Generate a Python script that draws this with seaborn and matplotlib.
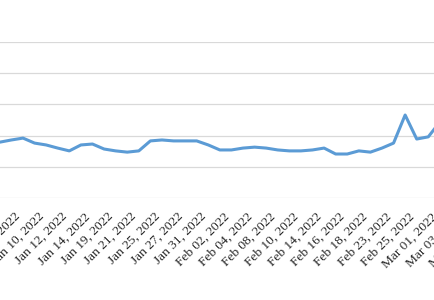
import matplotlib
matplotlib.use("Agg")
import matplotlib.pyplot as plt
import seaborn as sns
import pandas as pd
import numpy as np

# Trading days shown on the category axis (Jan 04 .. Mar 07, 2022)
trading_days = [
    "Jan 04, 2022", "Jan 05, 2022", "Jan 06, 2022", "Jan 07, 2022", "Jan 10, 2022",
    "Jan 11, 2022", "Jan 12, 2022", "Jan 13, 2022", "Jan 14, 2022", "Jan 18, 2022",
    "Jan 19, 2022", "Jan 20, 2022", "Jan 21, 2022", "Jan 24, 2022", "Jan 25, 2022",
    "Jan 26, 2022", "Jan 27, 2022", "Jan 28, 2022", "Jan 31, 2022", "Feb 01, 2022",
    "Feb 02, 2022", "Feb 03, 2022", "Feb 04, 2022", "Feb 07, 2022", "Feb 08, 2022",
    "Feb 09, 2022", "Feb 10, 2022", "Feb 11, 2022", "Feb 14, 2022", "Feb 15, 2022",
    "Feb 16, 2022", "Feb 17, 2022", "Feb 18, 2022", "Feb 22, 2022", "Feb 23, 2022",
    "Feb 24, 2022", "Feb 25, 2022", "Feb 28, 2022", "Mar 01, 2022", "Mar 02, 2022",
    "Mar 03, 2022", "Mar 04, 2022", "Mar 07, 2022",
]

# Series values (visible part, Jan 04 .. Mar 01)
values = [
    17.9, 18.6, 19.2, 17.6, 17.0, 16.0, 15.1, 17.0, 17.3, 15.7,
    15.1, 14.7, 15.1, 18.3, 18.6, 18.3, 18.3, 18.3, 17.0, 15.4,
    15.4, 16.0, 16.3, 16.0, 15.4, 15.1, 15.1, 15.4, 16.0, 14.1,
    14.1, 15.1, 14.7, 16.0, 17.6, 26.6, 18.9, 19.6, 24.4,
]

y_ticks = [0, 10, 20, 30, 40, 50]

df = pd.DataFrame({"pos": np.arange(len(values)), "value": values})

sns.set_style("white")
fig = plt.figure(figsize=(4.35, 3.0), dpi=100)
# axes wider than the figure: the chart is a crop of a larger one
ax = fig.add_axes([-60 / 435, 102 / 300, 560 / 435, 156 / 300])

sns.lineplot(data=df, x="pos", y="value", ax=ax, color="#5B9BD5",
             linewidth=2.2, solid_joinstyle="round", solid_capstyle="round")

px_per_cat = 11.58
x0_px = -0.16
ax.set_xlim((-60 - x0_px) / px_per_cat, (500 - x0_px) / px_per_cat)
ax.set_ylim(y_ticks[0], y_ticks[-1])

ax.set_yticks(y_ticks)
ax.set_yticklabels([])
ax.yaxis.grid(True, color="#D9D9D9", linewidth=0.9)
ax.set_axisbelow(True)

tick_pos = list(range(0, len(trading_days), 2))
ax.set_xticks(tick_pos)
ax.set_xticklabels([trading_days[i] for i in tick_pos], rotation=45, ha="right",
                   fontsize=9.6, family=["Liberation Serif", "DejaVu Serif"],
                   color="#262626")
ax.tick_params(axis="x", length=0, pad=9)
ax.tick_params(axis="y", length=0)
for s in ax.spines.values():
    s.set_visible(False)
ax.set_xlabel("")
ax.set_ylabel("")

fig.savefig("out.png", dpi=100)
